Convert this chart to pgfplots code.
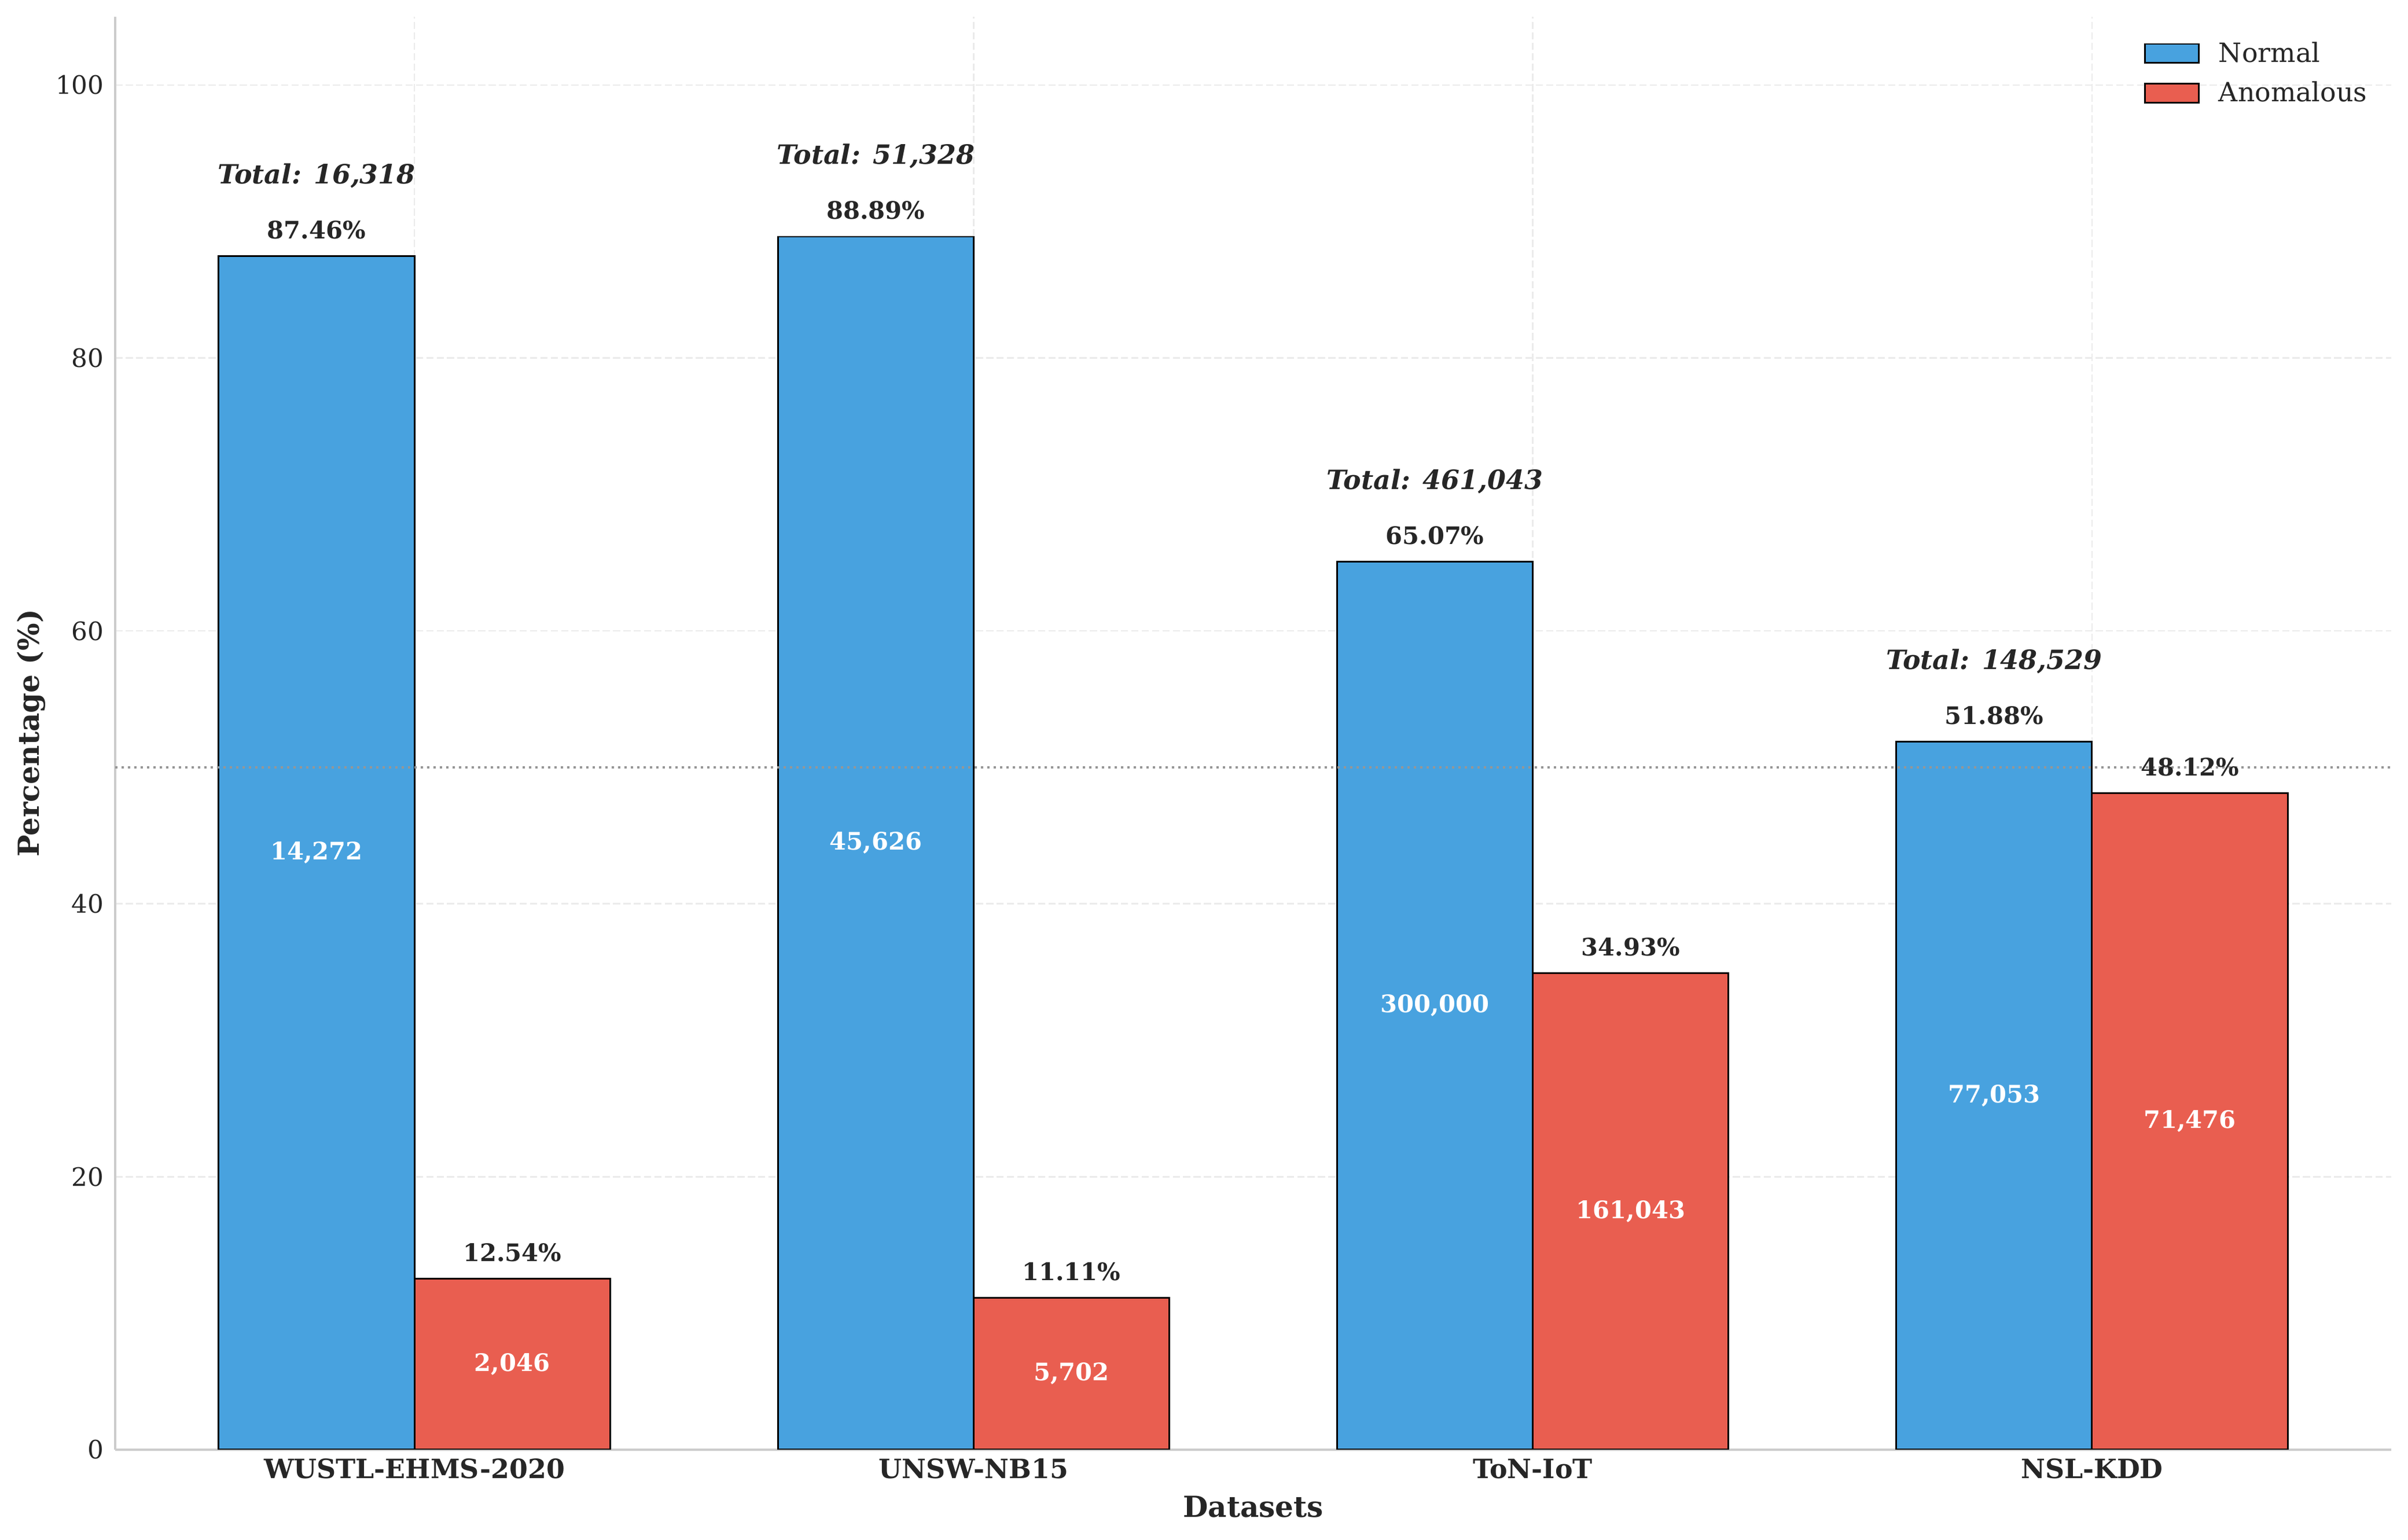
\documentclass[border=0pt]{standalone}
\usepackage{pgfplots}
\pgfplotsset{compat=1.18}
\usepackage{pgfplotstable}
\usepackage{fontspec}
\setmainfont{DejaVu Serif}
\definecolor{nblue}{RGB}{72,162,223}
\definecolor{ared}{RGB}{233,94,80}
\definecolor{gridc}{RGB}{235,235,235}
\definecolor{spine}{RGB}{204,204,204}
\definecolor{txt}{RGB}{38,38,38}
\definecolor{refl}{RGB}{150,150,150}

\pgfplotstableread{
x norm anom nmid amid ncount acount total
0 87.46 12.54 43.73 6.27 {14,272} {2,046} {16,318}
1 88.89 11.11 44.445 5.555 {45,626} {5,702} {51,328}
2 65.07 34.93 32.535 17.465 {300,000} {161,043} {461,043}
3 51.88 48.12 25.94 24.06 {77,053} {71,476} {148,529}
}\data

\begin{document}
\begin{tikzpicture}
\begin{axis}[
  scale only axis, width=943.9pt, height=594.2pt,
  xmin=-0.535, xmax=3.535, ymin=0, ymax=105,
  axis x line*=bottom, axis y line*=left,
  axis line style={spine, line width=1pt},
  xtick={0,1,2,3}, xticklabels={WUSTL-EHMS-2020,UNSW-NB15,ToN-IoT,NSL-KDD},
  ytick={0,20,40,60,80,100},
  major tick length=0pt,
  tick style={draw=none},
  grid=major,
  major grid style={gridc, line width=0.6pt, dash pattern=on 3pt off 1.3pt},
  /pgf/number format/assume math mode=true,
  yticklabel style={font=\fontsize{10.5}{12}\selectfont, text=txt, anchor=east, inner sep=0pt, xshift=-4.5pt},
  xticklabel style={font=\bfseries\fontsize{11}{13}\selectfont, text=txt, anchor=base, inner sep=0pt, yshift=-12pt},
  xlabel={Datasets}, ylabel={Percentage (\%)},
  xlabel style={at={(axis description cs:0.5,-0.0471)}, anchor=base, font=\bfseries\fontsize{12}{14}\selectfont, text=txt, inner sep=0pt},
  ylabel style={at={(axis description cs:-0.0334,0.5)}, anchor=base, font=\bfseries\fontsize{12}{14}\selectfont, text=txt, inner sep=0pt},
  legend style={at={(axis description cs:0.8914,0.982)}, anchor=north west, draw=none, fill=none, inner sep=0pt, outer sep=0pt, row sep=6pt, font=\fontsize{11}{13}\selectfont, text=txt, nodes={inner sep=0pt, text height=8pt, text depth=2.5pt}, /tikz/every odd column/.append style={column sep=8pt}},
  legend cell align=left,
  legend image code/.code={\draw[#1] (0pt,-3.2pt) rectangle (22.3pt,4.7pt);},
]
\coordinate (bl) at (rel axis cs:0,0);
\coordinate (tr) at (rel axis cs:1,1);

\addplot[ybar, bar width=0.35, bar shift=-0.175, fill=nblue, draw=black, line width=0.7pt,
  point meta=explicit symbolic, nodes near coords={\pgfplotspointmeta\%},
  every node near coord/.style={anchor=base, draw=none, inner sep=0pt, xshift=-40.59pt, yshift=7.2pt, font=\bfseries\fontsize{10}{12}\selectfont, text=txt}]
  table[x=x, y=norm, meta=norm] {\data};
\addlegendentry{Normal}

\addplot[ybar, bar width=0.35, bar shift=0.175, fill=ared, draw=black, line width=0.7pt,
  point meta=explicit symbolic, nodes near coords={\pgfplotspointmeta\%},
  every node near coord/.style={anchor=base, draw=none, inner sep=0pt, xshift=40.59pt, yshift=7.2pt, font=\bfseries\fontsize{10}{12}\selectfont, text=txt}]
  table[x=x, y=anom, meta=anom] {\data};
\addlegendentry{Anomalous}

\addplot[refl, line width=0.96pt, dash pattern=on 0.96pt off 1.68pt, forget plot]
  coordinates {(-0.535,50) (3.535,50)};

\addplot[ybar, bar width=0.35, bar shift=-0.175, draw=none, fill=none, forget plot,
  point meta=explicit symbolic, nodes near coords,
  every node near coord/.style={anchor=center, draw=none, inner sep=0pt, xshift=-40.59pt, font=\bfseries\fontsize{10}{12}\selectfont, text=white}]
  table[x=x, y=nmid, meta=ncount] {\data};

\addplot[ybar, bar width=0.35, bar shift=0.175, draw=none, fill=none, forget plot,
  point meta=explicit symbolic, nodes near coords,
  every node near coord/.style={anchor=center, draw=none, inner sep=0pt, xshift=40.59pt, font=\bfseries\fontsize{10}{12}\selectfont, text=white}]
  table[x=x, y=amid, meta=acount] {\data};

\addplot[ybar, bar width=0.35, bar shift=-0.175, draw=none, fill=none, forget plot,
  point meta=explicit symbolic, nodes near coords={Total: \pgfplotspointmeta},
  every node near coord/.style={anchor=base, draw=none, inner sep=0pt, xshift=-40.59pt, yshift=30pt, font=\bfseries\itshape\fontsize{11}{13}\selectfont, text=txt}]
  table[x=x, y=norm, meta=total] {\data};
\end{axis}
\pgfresetboundingbox
\path ([shift={(-47.8pt,-37.4pt)}]bl) rectangle ([shift={(7pt,7pt)}]tr);
\end{tikzpicture}
\end{document}
